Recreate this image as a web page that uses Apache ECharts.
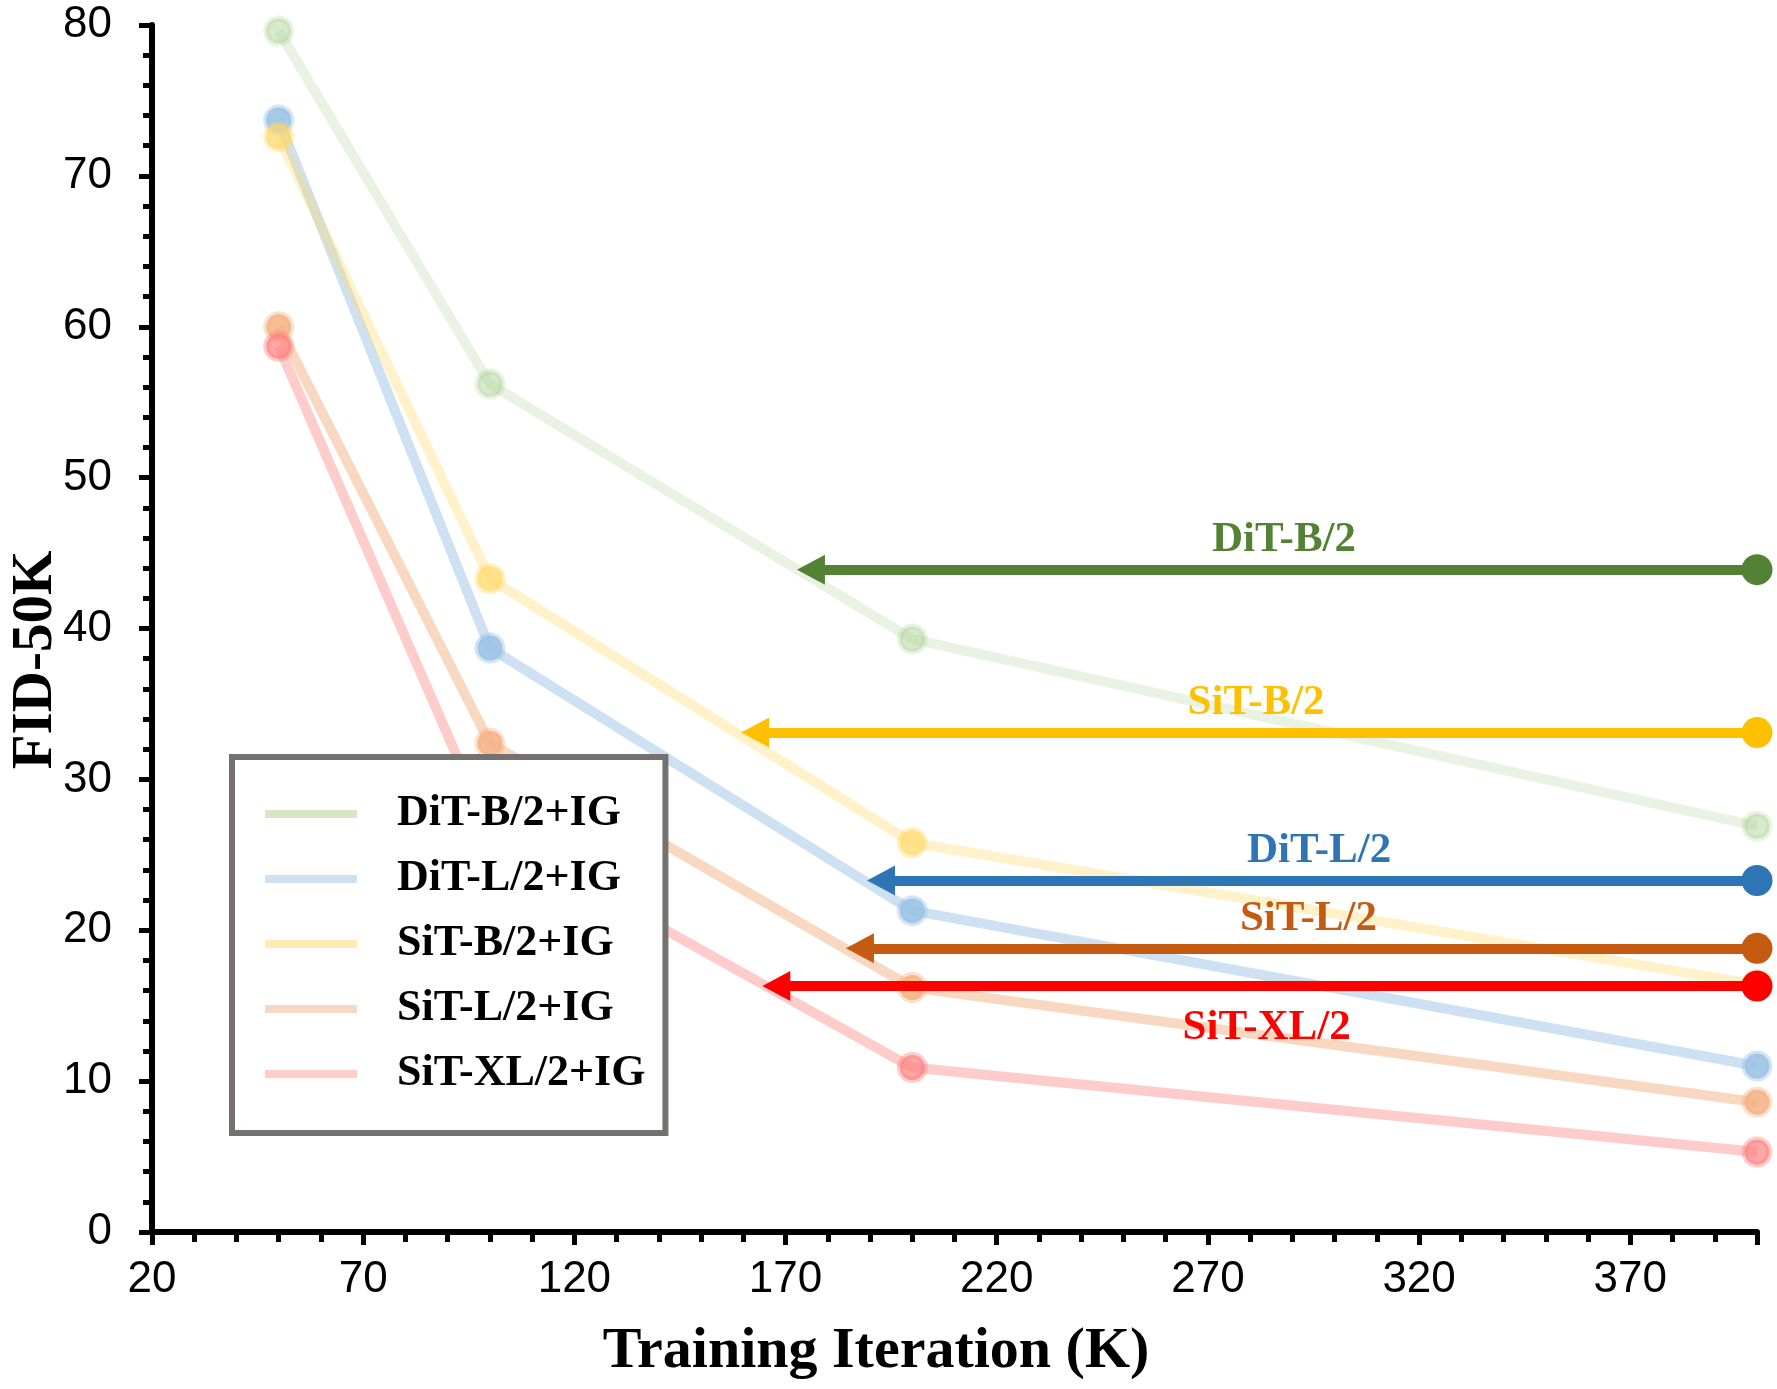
<!DOCTYPE html>
<html>
<head>
<meta charset="utf-8">
<title>FID-50K vs Training Iteration</title>
<script src="https://cdn.jsdelivr.net/npm/echarts@6/dist/echarts.min.js"></script>
<style>
  html, body { margin: 0; padding: 0; background: #fff; }
  #fid-chart { width: 1777px; height: 1389px; }
</style>
</head>
<body>
<div id="fid-chart"></div>
<script>
// iterations (K) where the +IG runs were evaluated
var iters = [50, 100, 200, 400];

var igNames = ['DiT-B/2+IG', 'DiT-L/2+IG', 'SiT-B/2+IG', 'SiT-L/2+IG', 'SiT-XL/2+IG'];
var ditB_IG = [79.6, 56.2, 39.3, 26.9];
var ditL_IG = [73.7, 38.7, 21.3, 11.0];
var sitB_IG = [72.6, 43.3, 25.8, 16.4];
var sitL_IG = [60.0, 32.4, 16.2, 8.6];
var sitXL_IG = [58.7, 26.5, 10.9, 5.3];
var igValues = [ditB_IG, ditL_IG, sitB_IG, sitL_IG, sitXL_IG];

// baselines at 400K; the arrow goes back to the iteration where +IG reaches the same FID
var baseNames = ['DiT-B/2', 'SiT-B/2', 'DiT-L/2', 'SiT-L/2', 'SiT-XL/2'];
var baseFid = [43.9, 33.1, 23.3, 18.8, 16.3];
var baseReach = [172.7, 159.5, 189.3, 184.3, 164.5];
var baseIter = 400;

// axes
var xMin = 20, xMax = 400, xStep = 50;
var yMin = 0, yMax = 80, yStep = 10;

// styles
var igRgb = ['169,209,142', '157,195,230', '255,217,102', '244,177,131', '255,128,128'];
var igLineAlpha = [0.25, 0.5, 0.35, 0.5, 0.4];
var igDotAlpha = [0.45, 0.9, 0.7, 0.85, 0.7];
var igRingAlpha = [0.25, 0.45, 0.4, 0.4, 0.4];
var igLegendAlpha = [0.5, 0.5, 0.5, 0.5, 0.4];
var baseColors = ['#548235', '#FFC000', '#2E75B6', '#C55A11', '#FF0000'];
var baseLabelSide = ['top', 'top', 'top', 'top', 'bottom'];

var serif = 'Liberation Serif, Times New Roman, serif';
var sans = 'Liberation Sans, Arial, sans-serif';
var headLen = 28;

function rgba(rgb, a) {
  return 'rgba(' + rgb + ',' + a + ')';
}

function igSeries() {
  return igNames.map(function (name, i) {
    return {
      name: name,
      type: 'line',
      z: 2,
      data: iters.map(function (x, j) { return [x, igValues[i][j]]; }),
      symbol: 'circle',
      symbolSize: 25,
      lineStyle: { color: rgba(igRgb[i], igLineAlpha[i]), width: 10 },
      itemStyle: {
        color: rgba(igRgb[i], igDotAlpha[i]),
        borderColor: rgba(igRgb[i], igRingAlpha[i]),
        borderWidth: 6
      },
      emphasis: { disabled: true }
    };
  });
}

function arrowSeries(starts) {
  return baseNames.map(function (name, i) {
    var top = baseLabelSide[i] === 'top';
    return {
      name: name,
      type: 'line',
      z: 5,
      data: [],
      color: baseColors[i],
      markLine: {
        silent: true,
        animation: false,
        symbol: ['triangle', 'circle'],
        lineStyle: { color: baseColors[i], width: 10, type: 'solid', opacity: 1 },
        itemStyle: { color: baseColors[i] },
        label: {
          show: true,
          position: top ? 'insideMiddleTop' : 'insideMiddleBottom',
          distance: top ? 8 : 20,
          formatter: function (p) { return p.name; },
          color: baseColors[i],
          fontFamily: serif,
          fontWeight: 'bold',
          fontSize: 43
        },
        emphasis: { disabled: true },
        data: [[
          { name: name, coord: [starts[i], baseFid[i]], symbolSize: [30, headLen] },
          { coord: [baseIter, baseFid[i]], symbolSize: 31 }
        ]]
      }
    };
  });
}

var option = {
  animation: false,
  backgroundColor: '#fff',
  grid: { left: 152, right: 20, top: 25, bottom: 157 },
  xAxis: {
    type: 'value',
    min: xMin,
    max: xMax,
    interval: xStep,
    axisLine: { lineStyle: { color: '#000', width: 6 } },
    axisTick: { length: 13, lineStyle: { color: '#000', width: 5 } },
    minorTick: { show: true, splitNumber: 5, length: 10, lineStyle: { color: '#000', width: 5 } },
    splitLine: { show: false },
    axisLabel: { margin: 26, color: '#000', fontFamily: sans, fontSize: 44, showMaxLabel: false }
  },
  yAxis: {
    type: 'value',
    min: yMin,
    max: yMax,
    interval: yStep,
    axisLine: { show: true, lineStyle: { color: '#000', width: 6 } },
    axisTick: { show: true, length: 13, lineStyle: { color: '#000', width: 5 } },
    minorTick: { show: true, splitNumber: 5, length: 9, lineStyle: { color: '#000', width: 5 } },
    splitLine: { show: false },
    axisLabel: { margin: 40, color: '#000', fontFamily: sans, fontSize: 44 }
  },
  legend: {
    orient: 'vertical',
    left: 232,
    top: 757,
    padding: [35, 20, 37, 33],
    backgroundColor: '#fff',
    borderColor: '#767171',
    borderWidth: 6,
    borderRadius: 0,
    itemWidth: 92,
    itemHeight: 8,
    itemGap: 21,
    icon: 'rect',
    selectedMode: false,
    itemStyle: { borderWidth: 0 },
    textStyle: {
      fontFamily: serif,
      fontWeight: 'bold',
      fontSize: 44,
      lineHeight: 44,
      color: '#000',
      padding: [0, 0, 0, 35]
    },
    data: igNames.map(function (name, i) {
      return { name: name, itemStyle: { color: rgba(igRgb[i], igLegendAlpha[i]), opacity: 1, borderWidth: 0 } };
    })
  },
  graphic: [
    {
      type: 'text',
      x: 876,
      y: 1352,
      style: { text: 'Training Iteration (K)', align: 'center', verticalAlign: 'middle',
               fontFamily: serif, fontWeight: 'bold', fontSize: 58, fill: '#000' }
    },
    {
      type: 'text',
      x: 36,
      y: 660,
      rotation: Math.PI / 2,
      style: { text: 'FID-50K', align: 'center', verticalAlign: 'middle',
               fontFamily: serif, fontWeight: 'bold', fontSize: 57, fill: '#000' }
    }
  ],
  series: igSeries().concat(arrowSeries(baseReach))
};

var chart = echarts.init(document.getElementById('fid-chart'));
chart.setOption(option);

// the arrow head is centred on its end point, so move that point half a head to the right
var starts = baseReach.map(function (x) {
  var px = chart.convertToPixel({ xAxisIndex: 0 }, x);
  return chart.convertFromPixel({ xAxisIndex: 0 }, px + headLen / 2);
});
chart.setOption({ series: igSeries().concat(arrowSeries(starts)) });
</script>
</body>
</html>
